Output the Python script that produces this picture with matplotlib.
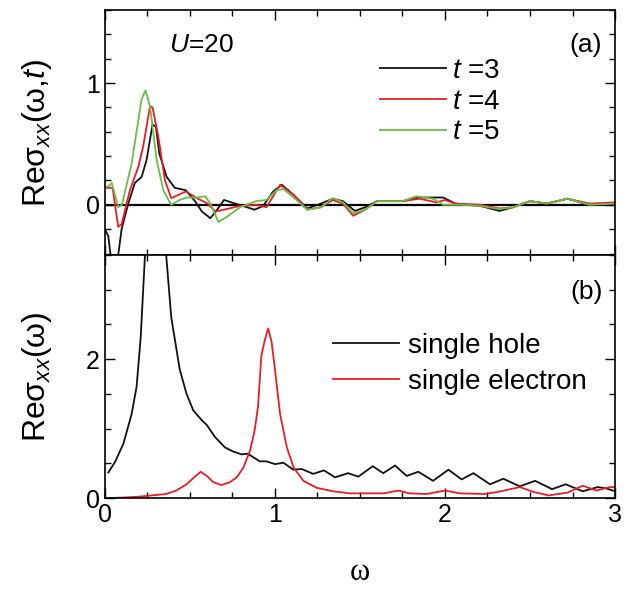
import matplotlib
matplotlib.use('Agg')
from matplotlib import pyplot as plt
from matplotlib.ticker import MultipleLocator

plt.rcParams['font.family'] = ['Liberation Sans', 'DejaVu Sans']
plt.rcParams['mathtext.fontset'] = 'custom'
plt.rcParams['mathtext.rm'] = 'Liberation Sans'
plt.rcParams['mathtext.it'] = 'Liberation Sans:italic'

# panel (a): Re sigma_xx(w, t) for three times
w_t3 = [0.0, 0.02, 0.04, 0.07, 0.098, 0.137, 0.176, 0.216, 0.245, 0.28, 0.30, 0.32, 0.363, 0.41, 0.475,
        0.53, 0.57, 0.62, 0.66, 0.70, 0.755, 0.813, 0.88, 0.93, 0.99, 1.04, 1.11, 1.19, 1.27, 1.34,
        1.40, 1.47, 1.53, 1.60, 1.75, 1.85, 1.99, 2.06, 2.21, 2.32, 2.40, 2.50, 2.60, 2.72, 2.85, 3.0]
re_t3 = [-0.20, -0.26, -0.50, -0.50, -0.20, 0.01, 0.18, 0.23, 0.37, 0.66, 0.64, 0.42, 0.23, 0.14, 0.12,
         0.03, -0.055, -0.11, -0.04, 0.04, 0.015, -0.01, -0.04, -0.01, 0.11, 0.165, 0.08, -0.03, 0.01, 0.05,
         0.03, -0.05, -0.02, 0.03, 0.03, 0.06, 0.06, 0.01, -0.01, -0.05, -0.02, 0.03, 0.01, 0.05, 0.0, 0.01]

w_t4 = [0.0, 0.02, 0.045, 0.078, 0.098, 0.147, 0.196, 0.225, 0.265, 0.28, 0.314, 0.353, 0.39, 0.43,
        0.476, 0.54, 0.60, 0.65, 0.716, 0.79, 0.89, 0.95, 1.03, 1.11, 1.19, 1.27, 1.34, 1.40, 1.46,
        1.53, 1.60, 1.75, 1.85, 1.95, 2.0, 2.06, 2.21, 2.32, 2.40, 2.50, 2.60, 2.72, 2.85, 3.0]
re_t4 = [0.14, 0.14, 0.14, -0.18, -0.16, 0.12, 0.31, 0.48, 0.81, 0.80, 0.56, 0.20, 0.055, 0.08,
         0.11, 0.055, 0.014, -0.055, -0.035, -0.01, 0.0, -0.02, 0.165, 0.08, -0.04, -0.02, 0.04, 0.01, -0.09,
         -0.04, 0.03, 0.03, 0.05, 0.02, 0.04, 0.01, 0.0, -0.03, -0.02, 0.03, 0.01, 0.05, 0.01, 0.02]

w_t5 = [0.0, 0.02, 0.04, 0.078, 0.10, 0.157, 0.216, 0.239, 0.265, 0.304, 0.343, 0.39, 0.44, 0.48, 0.54,
        0.59, 0.62, 0.667, 0.716, 0.794, 0.89, 0.95, 1.01, 1.05, 1.11, 1.19, 1.27, 1.34, 1.40, 1.46,
        1.53, 1.60, 1.75, 1.83, 1.93, 1.99, 2.10, 2.21, 2.32, 2.40, 2.50, 2.60, 2.72, 2.85, 3.0]
re_t5 = [0.15, 0.15, 0.18, -0.02, 0.0, 0.34, 0.87, 0.94, 0.81, 0.37, 0.12, 0.0, 0.04, 0.06, 0.06,
         0.07, 0.01, -0.14, -0.10, -0.02, 0.03, 0.04, 0.12, 0.13, 0.06, -0.04, -0.02, 0.055, 0.02, -0.07,
         -0.04, 0.03, 0.03, 0.07, 0.05, 0.0, 0.0, -0.01, -0.035, -0.02, 0.03, 0.01, 0.05, 0.0, 0.01]

# panel (b): Re sigma_xx(w)
w_hole = [0.02, 0.059, 0.108, 0.157, 0.186, 0.21, 0.235, 0.27, 0.30, 0.33, 0.36, 0.39, 0.44, 0.48,
          0.52, 0.57, 0.60, 0.647, 0.706, 0.755, 0.804, 0.84, 0.91, 0.95, 1.0, 1.05, 1.108, 1.157,
          1.225, 1.288, 1.353, 1.43, 1.49, 1.575, 1.637, 1.706, 1.775, 1.843, 1.93, 2.02, 2.098,
          2.167, 2.265, 2.343, 2.44, 2.53, 2.63, 2.71, 2.81, 2.90, 2.95, 3.0]
re_hole = [0.37, 0.52, 0.78, 1.21, 1.6, 2.3, 3.47, 5.5, 6.0, 5.5, 3.5, 2.6, 1.85, 1.50,
           1.26, 1.12, 1.05, 0.88, 0.73, 0.67, 0.63, 0.64, 0.53, 0.53, 0.49, 0.51, 0.41, 0.42,
           0.35, 0.40, 0.30, 0.36, 0.31, 0.46, 0.36, 0.47, 0.32, 0.38, 0.25, 0.41, 0.27,
           0.36, 0.20, 0.28, 0.17, 0.25, 0.13, 0.20, 0.10, 0.16, 0.14, 0.10]

w_elec = [0.02, 0.19, 0.36, 0.42, 0.48, 0.52, 0.563, 0.60, 0.637, 0.686, 0.735, 0.775, 0.814, 0.853,
          0.88, 0.90, 0.92, 0.94, 0.96, 0.98, 1.0, 1.03, 1.07, 1.11, 1.167, 1.245, 1.34, 1.44, 1.64,
          1.725, 1.79, 1.89, 2.0, 2.09, 2.23, 2.31, 2.44, 2.52, 2.61, 2.72, 2.81, 2.89, 2.97, 3.0]
re_elec = [0.0, 0.02, 0.06, 0.11, 0.20, 0.29, 0.38, 0.32, 0.23, 0.19, 0.23, 0.30, 0.44, 0.68,
           0.97, 1.31, 2.05, 2.27, 2.44, 2.25, 1.85, 1.21, 0.73, 0.44, 0.25, 0.15, 0.10, 0.07, 0.07,
           0.11, 0.07, 0.06, 0.11, 0.07, 0.06, 0.09, 0.16, 0.09, 0.04, 0.08, 0.18, 0.11, 0.16, 0.16]

black = '#111111'
red = '#ec1c24'
green = '#6abd45'

fig = plt.figure(figsize=(6.36, 5.91), dpi=100)
ax1 = fig.add_axes([0.165, 0.569, 0.802, 0.414])
ax2 = fig.add_axes([0.165, 0.157, 0.802, 0.412])

ax1.axhline(0, color='black', lw=1.6)
ax1.plot(w_t3, re_t3, color=black, lw=1.3, label=r'$t$ =3')
ax1.plot(w_t4, re_t4, color=red, lw=1.3, label=r'$t$ =4')
ax1.plot(w_t5, re_t5, color=green, lw=1.3, label=r'$t$ =5')
ax1.set_xlim(0, 3)
ax1.set_ylim(-0.41, 1.6)
ax1.yaxis.set_major_locator(MultipleLocator(1))
ax1.yaxis.set_minor_locator(MultipleLocator(0.2))
ax1.set_ylabel('Reσ' + r'$_{xx}$' + '(ω,' + r'$t$' + ')', fontsize=23)
ax1.tick_params(labelbottom=False)
ax1.text(0.125, 0.83, r'$U$=20', transform=ax1.transAxes, fontsize=19)
ax1.text(0.975, 0.83, '(a)', transform=ax1.transAxes, fontsize=19, ha='right')
ax1.legend(loc='upper left', bbox_to_anchor=(0.518, 0.85), frameon=False, fontsize=20,
           handlelength=2.35, handletextpad=0.25, labelspacing=0.17, borderaxespad=0)

ax2.plot(w_hole, re_hole, color=black, lw=1.3, label='single hole')
ax2.plot(w_elec, re_elec, color=red, lw=1.3, label='single electron')
ax2.set_xlim(0, 3)
ax2.set_ylim(0, 3.5)
ax2.yaxis.set_major_locator(MultipleLocator(2))
ax2.yaxis.set_minor_locator(MultipleLocator(0.5))
ax2.set_ylabel('Reσ' + r'$_{xx}$' + '(ω)', fontsize=23)
ax2.set_xlabel('ω', fontsize=22, family='Liberation Serif', labelpad=22)
ax2.text(0.975, 0.82, '(b)', transform=ax2.transAxes, fontsize=19, ha='right')
ax2.legend(loc='upper left', bbox_to_anchor=(0.425, 0.725), frameon=False, fontsize=20,
           handlelength=2.4, handletextpad=0.3, labelspacing=0.35, borderaxespad=0)

for ax in (ax1, ax2):
    ax.xaxis.set_major_locator(MultipleLocator(1))
    ax.xaxis.set_minor_locator(MultipleLocator(0.25))
    ax.tick_params(which='both', direction='in', top=True, right=True, labelsize=18, width=1)
    ax.tick_params(which='major', length=7)
    ax.tick_params(which='minor', length=4)
    ax.yaxis.set_label_coords(-0.1, 0.5)
    for s in ax.spines.values():
        s.set_linewidth(1.2)

plt.savefig('out.png', dpi=100)
